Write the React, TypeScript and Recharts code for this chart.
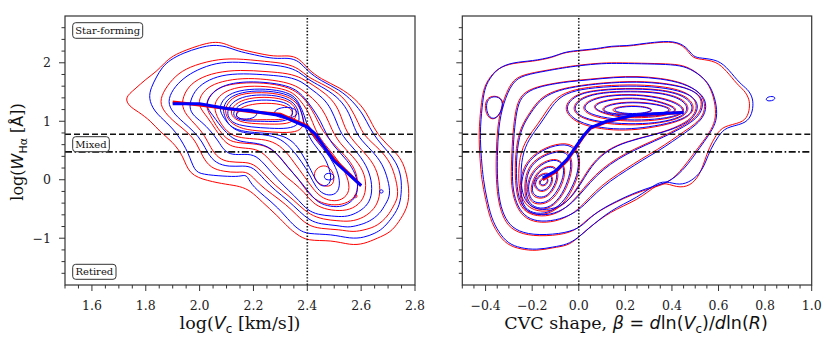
import React from 'react';
import { LineChart, Line, XAxis, YAxis, ReferenceLine } from 'recharts';

type Pt = [number, number];

// ---------- shared ----------
const Y_DOMAIN: [number, number] = [-1.8, 2.8];
const Y_LABELS = [-1, 0, 1, 2];
const LOG_EW_SF = 0.778; // log(6 A)
const LOG_EW_RET = 0.477; // log(3 A)

// ---------- left panel: log(Vc) ----------
const VC_DOMAIN: [number, number] = [1.5, 2.8];
const VC_LABELS = [1.6, 1.8, 2.0, 2.2, 2.4, 2.6, 2.8];
const VC_CUT = 2.4;

const VC_RED: Pt[][] = [
  [[1.72,1.40],[1.76,1.55],[1.80,1.72],[1.84,1.85],[1.87,2.0],[1.90,2.12],[1.95,2.22],[2.0,2.30],[2.05,2.36],[2.09,2.34],[2.13,2.25],[2.2,2.18],[2.28,2.10],[2.33,2.13],[2.37,2.08],[2.40,1.90],[2.45,1.72],[2.52,1.58],[2.58,1.38],[2.62,1.15],[2.64,0.95],[2.67,0.72],[2.72,0.50],[2.75,0.35],[2.77,0.10],[2.78,-0.25],[2.77,-0.50],[2.74,-0.72],[2.71,-0.90],[2.66,-1.0],[2.61,-1.1],[2.56,-1.12],[2.49,-1.03],[2.40,-1.05],[2.36,-0.93],[2.33,-0.82],[2.29,-0.62],[2.23,-0.37],[2.19,-0.19],[2.15,-0.11],[2.10,-0.08],[2.03,-0.02],[1.96,0.09],[1.94,0.40],[1.90,0.65],[1.85,0.83],[1.82,1.0],[1.77,1.17],[1.74,1.25]],
  [[1.85,1.33],[1.87,1.55],[1.91,1.78],[1.96,1.93],[2.05,2.05],[2.13,2.08],[2.25,2.02],[2.32,1.99],[2.37,1.9],[2.40,1.76],[2.45,1.65],[2.52,1.48],[2.56,1.25],[2.59,0.97],[2.61,0.75],[2.67,0.52],[2.71,0.29],[2.73,0.0],[2.74,-0.28],[2.72,-0.45],[2.70,-0.62],[2.66,-0.79],[2.62,-0.85],[2.57,-0.9],[2.52,-0.85],[2.45,-0.84],[2.40,-0.78],[2.36,-0.6],[2.32,-0.42],[2.27,-0.25],[2.22,-0.08],[2.18,0.15],[2.14,0.12],[2.09,0.14],[2.04,0.2],[2.01,0.4],[1.99,0.62],[1.96,0.8],[1.91,0.97],[1.87,1.15]],
  [[1.93,1.3],[1.95,1.55],[1.99,1.72],[2.06,1.84],[2.15,1.88],[2.25,1.85],[2.33,1.82],[2.38,1.74],[2.42,1.62],[2.47,1.47],[2.51,1.27],[2.53,1.02],[2.55,0.77],[2.6,0.52],[2.65,0.27],[2.67,-0.03],[2.67,-0.3],[2.65,-0.5],[2.61,-0.65],[2.56,-0.72],[2.51,-0.7],[2.46,-0.68],[2.41,-0.6],[2.37,-0.44],[2.33,-0.27],[2.28,-0.1],[2.24,0.1],[2.2,0.28],[2.16,0.3],[2.11,0.3],[2.07,0.36],[2.04,0.55],[2.02,0.75],[1.99,0.92],[1.95,1.1]],
  [[1.99,1.28],[2.01,1.5],[2.05,1.64],[2.12,1.72],[2.2,1.74],[2.3,1.69],[2.36,1.61],[2.4,1.47],[2.44,1.31],[2.47,1.1],[2.49,0.86],[2.52,0.62],[2.57,0.4],[2.61,0.15],[2.62,-0.1],[2.61,-0.34],[2.57,-0.5],[2.52,-0.54],[2.46,-0.5],[2.42,-0.4],[2.39,-0.22],[2.35,-0.05],[2.3,0.12],[2.26,0.35],[2.22,0.52],[2.17,0.54],[2.12,0.56],[2.09,0.66],[2.06,0.85],[2.03,1.07]],
  [[2.02,1.27],[2.04,1.47],[2.08,1.6],[2.15,1.66],[2.24,1.66],[2.32,1.6],[2.37,1.48],[2.4,1.32],[2.43,1.1],[2.45,0.88],[2.49,0.64],[2.54,0.42],[2.58,0.18],[2.59,-0.08],[2.58,-0.3],[2.54,-0.42],[2.49,-0.44],[2.44,-0.38],[2.4,-0.22],[2.37,0.0],[2.33,0.2],[2.29,0.45],[2.24,0.6],[2.18,0.62],[2.12,0.64],[2.09,0.74],[2.06,0.93],[2.04,1.1]],
  [[2.05,1.25],[2.07,1.43],[2.11,1.55],[2.18,1.61],[2.27,1.59],[2.34,1.52],[2.37,1.38],[2.4,1.2],[2.42,0.98],[2.44,0.75],[2.48,0.52],[2.52,0.3],[2.55,0.05],[2.56,-0.2],[2.53,-0.35],[2.49,-0.37],[2.45,-0.3],[2.42,-0.15],[2.39,0.05],[2.35,0.3],[2.31,0.55],[2.26,0.68],[2.2,0.7],[2.14,0.72],[2.1,0.82],[2.07,1.02]],
  [[2.09,1.18],[2.11,1.36],[2.15,1.47],[2.23,1.5],[2.31,1.46],[2.36,1.34],[2.38,1.15],[2.39,0.95],[2.37,0.82],[2.31,0.8],[2.23,0.83],[2.16,0.86],[2.11,0.98]],
  [[2.11,1.13],[2.13,1.3],[2.18,1.4],[2.26,1.42],[2.33,1.36],[2.36,1.22],[2.36,1.05],[2.33,0.95],[2.26,0.95],[2.19,0.96],[2.14,1.0]],
  [[2.13,1.1],[2.15,1.24],[2.21,1.31],[2.29,1.31],[2.34,1.23],[2.35,1.1],[2.31,1.02],[2.25,1.03],[2.18,1.02],[2.15,1.04]],
  [[2.42,0.02],[2.43,0.2],[2.47,0.27],[2.5,0.12],[2.5,-0.1],[2.46,-0.13]],
  [[2.575,-0.25],[2.585,-0.25],[2.585,-0.31],[2.575,-0.31]],
];

const VC_BLUE: Pt[][] = [
  [[1.81,1.40],[1.82,1.58],[1.84,1.76],[1.86,1.92],[1.89,2.05],[1.94,2.17],[2.0,2.26],[2.05,2.31],[2.1,2.28],[2.14,2.2],[2.2,2.14],[2.28,2.06],[2.33,2.09],[2.37,2.03],[2.40,1.86],[2.45,1.69],[2.52,1.54],[2.57,1.34],[2.61,1.1],[2.63,0.9],[2.66,0.68],[2.70,0.48],[2.73,0.30],[2.75,0.06],[2.75,-0.25],[2.74,-0.48],[2.71,-0.68],[2.68,-0.84],[2.65,-0.92],[2.61,-0.99],[2.56,-1.01],[2.49,-0.93],[2.40,-0.93],[2.37,-0.86],[2.34,-0.74],[2.29,-0.47],[2.24,-0.28],[2.19,-0.08],[2.175,0.1],[2.15,0.05],[2.09,0.06],[2.01,0.09],[1.98,0.15],[1.96,0.45],[1.92,0.77],[1.88,0.97],[1.83,1.17]],
  [[1.88,1.33],[1.9,1.55],[1.94,1.74],[1.99,1.88],[2.06,2.0],[2.14,2.02],[2.25,1.97],[2.32,1.94],[2.37,1.85],[2.40,1.72],[2.45,1.6],[2.51,1.43],[2.55,1.2],[2.57,0.95],[2.59,0.72],[2.64,0.5],[2.68,0.27],[2.70,0.0],[2.71,-0.26],[2.69,-0.42],[2.67,-0.58],[2.63,-0.72],[2.59,-0.78],[2.55,-0.82],[2.51,-0.78],[2.45,-0.76],[2.41,-0.7],[2.37,-0.54],[2.33,-0.36],[2.28,-0.18],[2.24,0.0],[2.20,0.22],[2.16,0.24],[2.11,0.22],[2.06,0.28],[2.03,0.45],[2.01,0.65],[1.98,0.82],[1.94,0.98],[1.90,1.15]],
  [[1.96,1.28],[1.98,1.52],[2.02,1.68],[2.08,1.79],[2.16,1.82],[2.26,1.79],[2.33,1.76],[2.38,1.68],[2.41,1.56],[2.46,1.4],[2.49,1.2],[2.51,0.97],[2.53,0.74],[2.58,0.5],[2.62,0.25],[2.64,-0.02],[2.64,-0.28],[2.62,-0.46],[2.58,-0.58],[2.54,-0.64],[2.49,-0.62],[2.44,-0.6],[2.4,-0.52],[2.37,-0.36],[2.33,-0.18],[2.29,0.0],[2.25,0.22],[2.21,0.42],[2.17,0.44],[2.12,0.42],[2.09,0.5],[2.07,0.66],[2.04,0.84],[2.01,0.98],[1.97,1.12]],
  [[2.02,1.26],[2.04,1.46],[2.08,1.6],[2.14,1.67],[2.22,1.68],[2.31,1.63],[2.36,1.54],[2.39,1.4],[2.42,1.22],[2.45,1.0],[2.47,0.78],[2.5,0.56],[2.55,0.33],[2.58,0.1],[2.59,-0.12],[2.58,-0.32],[2.54,-0.45],[2.5,-0.47],[2.45,-0.42],[2.42,-0.3],[2.39,-0.12],[2.36,0.05],[2.32,0.25],[2.28,0.5],[2.23,0.62],[2.17,0.64],[2.13,0.68],[2.1,0.8],[2.07,0.96],[2.05,1.1]],
  [[2.07,1.22],[2.09,1.4],[2.13,1.51],[2.2,1.56],[2.29,1.54],[2.35,1.45],[2.37,1.3],[2.39,1.1],[2.4,0.9],[2.43,0.68],[2.47,0.48],[2.5,0.27],[2.52,0.04],[2.52,-0.16],[2.5,-0.27],[2.46,-0.26],[2.43,-0.12],[2.41,0.08],[2.38,0.3],[2.34,0.55],[2.29,0.74],[2.22,0.78],[2.16,0.8],[2.12,0.88],[2.09,1.05]],
  [[2.085,1.2],[2.1,1.37],[2.14,1.48],[2.21,1.53],[2.3,1.5],[2.355,1.4],[2.375,1.22],[2.385,1.02],[2.395,0.85],[2.42,0.62],[2.46,0.42],[2.48,0.22],[2.49,0.03],[2.48,-0.1],[2.45,-0.12],[2.43,0.0],[2.41,0.2],[2.38,0.45],[2.35,0.65],[2.3,0.78],[2.22,0.8],[2.15,0.83],[2.11,0.92],[2.095,1.06]],
  [[2.1,1.16],[2.12,1.33],[2.17,1.44],[2.25,1.46],[2.32,1.41],[2.36,1.28],[2.37,1.1],[2.37,0.94],[2.33,0.87],[2.26,0.88],[2.19,0.9],[2.13,0.95],[2.11,1.04]],
  [[2.12,1.12],[2.14,1.27],[2.19,1.36],[2.27,1.37],[2.33,1.31],[2.35,1.18],[2.34,1.04],[2.3,0.99],[2.24,1.0],[2.18,1.0],[2.14,1.03]],
  [[2.13,1.1],[2.15,1.2],[2.19,1.22],[2.22,1.14],[2.2,1.04],[2.15,1.03]],
  [[2.27,1.13],[2.29,1.23],[2.34,1.25],[2.37,1.16],[2.35,1.05],[2.3,1.05]],
  [[2.46,0.05],[2.47,0.12],[2.5,0.1],[2.5,0.0],[2.47,-0.01]],
  [[2.668,-0.17],[2.682,-0.17],[2.682,-0.23],[2.668,-0.23]],
];

const VC_RED_MEDIAN: Pt[] = [[1.9,1.33],[2.0,1.28],[2.1,1.22],[2.2,1.16],[2.3,1.12],[2.4,0.92],[2.42,0.8],[2.5,0.35],[2.6,-0.1]];
const VC_BLUE_MEDIAN: Pt[] = [[1.9,1.3],[2.0,1.3],[2.1,1.22],[2.2,1.17],[2.3,1.1],[2.4,0.9],[2.43,0.78],[2.5,0.32],[2.6,-0.1]];

// ---------- right panel: CVC shape beta ----------
const BETA_DOMAIN: [number, number] = [-0.5, 1.0];
const BETA_LABELS = [-0.4, -0.2, 0.0, 0.2, 0.4, 0.6, 0.8, 1.0];
const BETA_CUT = 0;

const BETA_RED: Pt[][] = [
  [[-0.43,0.8],[-0.42,1.26],[-0.41,1.54],[-0.39,1.71],[-0.35,1.91],[-0.28,2.0],[-0.2,2.02],[-0.11,2.09],[-0.07,2.17],[-0.01,2.2],[0.08,2.23],[0.14,2.28],[0.21,2.28],[0.26,2.31],[0.32,2.34],[0.41,2.37],[0.46,2.26],[0.485,2.09],[0.52,2.06],[0.59,2.03],[0.635,1.86],[0.68,1.63],[0.71,1.53],[0.73,1.40],[0.735,1.27],[0.727,1.09],[0.70,0.97],[0.62,0.92],[0.59,0.77],[0.56,0.55],[0.54,0.32],[0.52,0.09],[0.48,-0.11],[0.42,-0.14],[0.36,-0.02],[0.30,-0.2],[0.25,-0.34],[0.19,-0.45],[0.135,-0.56],[0.09,-0.68],[0.035,-0.85],[-0.01,-1.02],[-0.05,-1.13],[-0.11,-1.16],[-0.18,-1.22],[-0.25,-1.19],[-0.31,-1.11],[-0.35,-0.91],[-0.38,-0.68],[-0.40,-0.34],[-0.417,0.0],[-0.424,0.35]],
  [[-0.355,0.4],[-0.35,0.9],[-0.33,1.3],[-0.29,1.69],[-0.24,1.8],[-0.14,1.87],[-0.07,1.92],[0.0,1.96],[0.1,2.0],[0.18,2.0],[0.3,1.99],[0.4,1.98],[0.46,1.95],[0.52,1.8],[0.56,1.63],[0.585,1.34],[0.59,1.06],[0.57,0.86],[0.535,0.66],[0.49,0.43],[0.45,0.21],[0.39,-0.05],[0.32,-0.13],[0.23,-0.25],[0.15,-0.4],[0.08,-0.55],[0.03,-0.7],[-0.01,-0.86],[-0.08,-0.95],[-0.2,-0.97],[-0.28,-0.88],[-0.32,-0.7],[-0.345,-0.4],[-0.355,0.0]],
  [[-0.29,0.2],[-0.285,0.7],[-0.275,1.1],[-0.26,1.38],[-0.22,1.54],[-0.14,1.63],[-0.04,1.69],[0.05,1.72],[0.15,1.76],[0.25,1.77],[0.35,1.74],[0.45,1.66],[0.52,1.5],[0.545,1.3],[0.535,1.1],[0.5,0.95],[0.45,0.82],[0.4,0.68],[0.34,0.52],[0.27,0.36],[0.2,0.18],[0.13,0.0],[0.07,-0.2],[0.02,-0.42],[-0.03,-0.6],[-0.1,-0.72],[-0.18,-0.74],[-0.24,-0.64],[-0.275,-0.4],[-0.29,-0.1]],
  [[-0.275,0.1],[-0.27,0.55],[-0.25,0.9],[-0.21,1.15],[-0.17,1.38],[-0.11,1.52],[-0.02,1.6],[0.1,1.66],[0.25,1.69],[0.38,1.65],[0.48,1.56],[0.53,1.4],[0.525,1.18],[0.49,1.02],[0.43,0.88],[0.36,0.74],[0.28,0.6],[0.2,0.45],[0.13,0.28],[0.07,0.08],[0.02,-0.15],[-0.03,-0.4],[-0.09,-0.58],[-0.16,-0.64],[-0.23,-0.57],[-0.265,-0.35]],
  [[-0.26,0.0],[-0.255,0.4],[-0.225,0.7],[-0.175,0.95],[-0.135,1.2],[-0.095,1.42],[-0.02,1.55],[0.1,1.61],[0.25,1.63],[0.38,1.59],[0.47,1.49],[0.51,1.32],[0.5,1.12],[0.46,0.98],[0.39,0.85],[0.3,0.75],[0.2,0.65],[0.12,0.51],[0.06,0.29],[0.02,0.04],[-0.02,-0.23],[-0.07,-0.46],[-0.14,-0.56],[-0.21,-0.51],[-0.25,-0.3]],
  [[-0.07,1.2],[-0.03,1.43],[0.05,1.53],[0.2,1.57],[0.35,1.55],[0.46,1.45],[0.5,1.26],[0.48,1.09],[0.41,0.97],[0.3,0.88],[0.2,0.84],[0.1,0.86],[-0.01,0.96]],
  [[-0.035,1.22],[0.01,1.42],[0.1,1.5],[0.22,1.52],[0.35,1.5],[0.45,1.39],[0.48,1.2],[0.44,1.05],[0.35,0.97],[0.25,0.93],[0.12,0.95],[0.01,1.04]],
  [[0.005,1.22],[0.05,1.39],[0.15,1.46],[0.28,1.46],[0.41,1.36],[0.47,1.18],[0.41,1.06],[0.3,1.0],[0.18,1.0],[0.06,1.07]],
  [[0.045,1.22],[0.09,1.35],[0.2,1.41],[0.32,1.38],[0.44,1.22],[0.39,1.1],[0.27,1.05],[0.15,1.07]],
  [[0.09,1.2],[0.13,1.3],[0.23,1.34],[0.34,1.3],[0.42,1.19],[0.34,1.11],[0.23,1.1],[0.13,1.12]],
  [[0.13,1.19],[0.175,1.26],[0.27,1.27],[0.335,1.19],[0.27,1.12],[0.185,1.12]],
  [[-0.255,-0.2],[-0.245,0.16],[-0.205,0.41],[-0.12,0.6],[-0.035,0.64],[0.005,0.46],[0.005,0.15],[-0.025,-0.16],[-0.065,-0.42],[-0.13,-0.6],[-0.205,-0.6],[-0.245,-0.46]],
  [[-0.235,-0.15],[-0.225,0.16],[-0.185,0.36],[-0.11,0.5],[-0.045,0.5],[-0.025,0.3],[-0.035,0.04],[-0.065,-0.26],[-0.12,-0.5],[-0.185,-0.52],[-0.225,-0.39]],
  [[-0.225,-0.12],[-0.205,0.13],[-0.155,0.31],[-0.09,0.38],[-0.055,0.22],[-0.065,-0.03],[-0.095,-0.27],[-0.14,-0.42],[-0.195,-0.42],[-0.215,-0.31]],
  [[-0.205,-0.1],[-0.185,0.11],[-0.14,0.24],[-0.095,0.23],[-0.085,0.05],[-0.105,-0.16],[-0.14,-0.32],[-0.185,-0.32],[-0.205,-0.23]],
  [[-0.195,-0.06],[-0.175,0.08],[-0.13,0.14],[-0.105,0.02],[-0.125,-0.16],[-0.16,-0.22],[-0.185,-0.16]],
  [[-0.175,-0.04],[-0.155,0.04],[-0.128,0.03],[-0.135,-0.09],[-0.162,-0.12]],
  [[-0.405,1.28],[-0.39,1.42],[-0.35,1.44],[-0.322,1.35],[-0.328,1.18],[-0.36,1.01],[-0.395,1.07]],
];

const BETA_BLUE: Pt[][] = [
  [[-0.425,0.8],[-0.415,1.26],[-0.405,1.55],[-0.385,1.72],[-0.345,1.92],[-0.28,2.01],[-0.2,2.03],[-0.11,2.1],[-0.065,2.18],[-0.01,2.21],[0.08,2.24],[0.14,2.29],[0.21,2.29],[0.26,2.32],[0.32,2.35],[0.41,2.38],[0.465,2.27],[0.49,2.1],[0.525,2.08],[0.6,2.05],[0.645,1.88],[0.69,1.65],[0.725,1.55],[0.745,1.42],[0.75,1.27],[0.74,1.08],[0.71,0.95],[0.63,0.9],[0.6,0.75],[0.565,0.52],[0.545,0.3],[0.52,0.1],[0.47,-0.06],[0.42,-0.09],[0.36,0.0],[0.3,-0.16],[0.25,-0.3],[0.19,-0.42],[0.14,-0.53],[0.095,-0.66],[0.04,-0.84],[-0.005,-1.0],[-0.05,-1.11],[-0.11,-1.15],[-0.18,-1.2],[-0.25,-1.17],[-0.305,-1.09],[-0.345,-0.89],[-0.375,-0.66],[-0.395,-0.32],[-0.41,0.0],[-0.418,0.35]],
  [[-0.35,0.4],[-0.345,0.9],[-0.325,1.3],[-0.285,1.68],[-0.235,1.79],[-0.14,1.86],[-0.07,1.91],[0.0,1.95],[0.1,1.99],[0.18,1.99],[0.3,1.98],[0.4,1.97],[0.465,1.93],[0.525,1.78],[0.565,1.61],[0.59,1.33],[0.595,1.06],[0.575,0.86],[0.54,0.66],[0.5,0.44],[0.46,0.22],[0.4,-0.02],[0.33,-0.1],[0.24,-0.22],[0.16,-0.37],[0.09,-0.52],[0.04,-0.68],[0.0,-0.84],[-0.08,-0.93],[-0.2,-0.95],[-0.275,-0.86],[-0.315,-0.68],[-0.34,-0.4],[-0.35,0.0]],
  [[-0.285,0.2],[-0.28,0.7],[-0.27,1.1],[-0.255,1.37],[-0.215,1.53],[-0.14,1.62],[-0.04,1.68],[0.05,1.71],[0.15,1.75],[0.25,1.76],[0.35,1.73],[0.45,1.65],[0.525,1.49],[0.55,1.3],[0.54,1.1],[0.505,0.94],[0.455,0.8],[0.405,0.66],[0.345,0.5],[0.275,0.34],[0.205,0.16],[0.135,-0.02],[0.075,-0.22],[0.025,-0.43],[-0.025,-0.59],[-0.1,-0.7],[-0.18,-0.72],[-0.235,-0.62],[-0.27,-0.4],[-0.285,-0.1]],
  [[-0.27,0.1],[-0.265,0.55],[-0.245,0.9],[-0.205,1.15],[-0.165,1.37],[-0.105,1.51],[-0.02,1.59],[0.1,1.65],[0.25,1.68],[0.38,1.64],[0.485,1.55],[0.535,1.39],[0.53,1.17],[0.495,1.01],[0.435,0.87],[0.365,0.73],[0.285,0.59],[0.205,0.44],[0.135,0.27],[0.075,0.07],[0.025,-0.16],[-0.025,-0.39],[-0.085,-0.56],[-0.16,-0.62],[-0.225,-0.55],[-0.26,-0.34]],
  [[-0.25,0.0],[-0.245,0.4],[-0.215,0.7],[-0.165,0.95],[-0.125,1.2],[-0.085,1.41],[-0.02,1.53],[0.1,1.59],[0.25,1.61],[0.38,1.57],[0.475,1.47],[0.515,1.31],[0.505,1.12],[0.465,0.97],[0.395,0.85],[0.305,0.75],[0.205,0.65],[0.125,0.51],[0.065,0.29],[0.025,0.04],[-0.015,-0.22],[-0.065,-0.44],[-0.14,-0.53],[-0.205,-0.48],[-0.24,-0.3]],
  [[-0.065,1.2],[-0.025,1.42],[0.05,1.52],[0.2,1.56],[0.35,1.54],[0.455,1.44],[0.495,1.25],[0.475,1.09],[0.405,0.98],[0.3,0.9],[0.2,0.86],[0.1,0.88],[-0.005,0.98]],
  [[-0.03,1.22],[0.015,1.41],[0.1,1.49],[0.22,1.51],[0.35,1.49],[0.445,1.38],[0.475,1.2],[0.435,1.06],[0.35,0.98],[0.25,0.95],[0.12,0.97],[0.015,1.05]],
  [[0.01,1.22],[0.055,1.38],[0.15,1.45],[0.28,1.45],[0.405,1.35],[0.465,1.18],[0.405,1.07],[0.3,1.02],[0.18,1.02],[0.065,1.09]],
  [[0.05,1.22],[0.095,1.34],[0.2,1.4],[0.32,1.37],[0.435,1.21],[0.385,1.11],[0.27,1.07],[0.15,1.09]],
  [[0.095,1.2],[0.135,1.29],[0.23,1.33],[0.34,1.29],[0.41,1.19],[0.34,1.12],[0.23,1.11],[0.135,1.13]],
  [[0.14,1.19],[0.18,1.25],[0.27,1.26],[0.33,1.19],[0.27,1.13],[0.19,1.13]],
  [[-0.25,-0.2],[-0.24,0.15],[-0.2,0.4],[-0.12,0.58],[-0.04,0.62],[0.0,0.45],[0.0,0.15],[-0.03,-0.15],[-0.07,-0.4],[-0.13,-0.58],[-0.2,-0.58],[-0.24,-0.45]],
  [[-0.23,-0.15],[-0.22,0.15],[-0.18,0.35],[-0.11,0.48],[-0.05,0.48],[-0.03,0.3],[-0.04,0.05],[-0.07,-0.25],[-0.12,-0.48],[-0.18,-0.5],[-0.22,-0.38]],
  [[-0.22,-0.12],[-0.2,0.12],[-0.15,0.3],[-0.09,0.36],[-0.06,0.22],[-0.07,-0.02],[-0.1,-0.25],[-0.14,-0.4],[-0.19,-0.4],[-0.21,-0.3]],
  [[-0.2,-0.1],[-0.18,0.1],[-0.14,0.22],[-0.1,0.22],[-0.09,0.05],[-0.11,-0.15],[-0.14,-0.3],[-0.18,-0.3],[-0.2,-0.22]],
  [[-0.19,-0.06],[-0.17,0.07],[-0.13,0.12],[-0.11,0.02],[-0.13,-0.15],[-0.16,-0.2],[-0.18,-0.15]],
  [[-0.17,-0.04],[-0.15,0.03],[-0.13,0.02],[-0.14,-0.08],[-0.16,-0.1]],
  [[-0.4,1.28],[-0.385,1.41],[-0.35,1.43],[-0.325,1.35],[-0.33,1.18],[-0.36,1.02],[-0.39,1.08]],
  [[0.80,1.37],[0.815,1.43],[0.845,1.42],[0.84,1.36],[0.815,1.34]],
];

const BETA_RED_MEDIAN: Pt[] = [[-0.155,0.0],[-0.1,0.13],[-0.05,0.33],[-0.01,0.56],[0.02,0.74],[0.05,0.88],[0.12,0.99],[0.23,1.09],[0.32,1.12],[0.45,1.15]];
const BETA_BLUE_MEDIAN: Pt[] = [[-0.155,0.03],[-0.1,0.15],[-0.05,0.35],[-0.01,0.58],[0.02,0.75],[0.05,0.89],[0.12,1.0],[0.23,1.1],[0.32,1.13],[0.45,1.15]];

// ---------- helpers ----------
const toRows = (pts: Pt[]) => pts.map(([x, y]) => ({ x, y }));

const steps = (from: number, to: number, step: number) => {
  const out: number[] = [];
  for (let v = from; v <= to + 1e-9; v += step) out.push(Math.round(v * 1000) / 1000);
  return out;
};

const fmt = (v: number, digits: number) => {
  const s = (Math.abs(v) < 1e-9 ? 0 : v).toFixed(digits);
  return s.replace('-', '\u2212');
};

const isOn = (v: number, unit: number) => Math.abs(v / unit - Math.round(v / unit)) < 1e-6;

const AXIS = '#333';
const SERIF = 'DejaVu Serif';
const MATH = 'DejaVu Sans';

const XTick = (props: any) => {
  const { x, y, payload, labels } = props;
  const v = payload.value as number;
  const major = labels.some((l: number) => Math.abs(l - v) < 1e-6);
  return (
    <g>
      <line x1={x} x2={x} y1={y} y2={y + (major ? 6 : 3.5)} stroke={AXIS} strokeWidth={1} />
      {major && (
        <text x={x} y={y + 25} textAnchor="middle" fontSize={12.5} fontFamily={SERIF} fill="#222">
          {fmt(v, 1)}
        </text>
      )}
    </g>
  );
};

const YTick = (props: any) => {
  const { x, y, payload, showLabels } = props;
  const v = payload.value as number;
  const major = isOn(v, 1);
  return (
    <g>
      <line x1={x} x2={x - (major ? 6 : 3.5)} y1={y} y2={y} stroke={AXIS} strokeWidth={1} />
      {major && showLabels && Y_LABELS.includes(Math.round(v)) && (
        <text x={x - 14} y={y + 4.5} textAnchor="end" fontSize={12.5} fontFamily={SERIF} fill="#222">
          {fmt(v, 0)}
        </text>
      )}
    </g>
  );
};

interface PanelProps {
  width: number;
  margin: { top: number; right: number; bottom: number; left: number };
  xDomain: [number, number];
  xLabels: number[];
  red: Pt[][];
  blue: Pt[][];
  redMedian: Pt[];
  blueMedian: Pt[];
  xCut: number;
  showYLabels: boolean;
}

function Panel({ width, margin, xDomain, xLabels, red, blue, redMedian, blueMedian, xCut, showYLabels }: PanelProps) {
  const xTicks = steps(xDomain[0], xDomain[1], 0.05);
  const yTicks = steps(-1.6, 2.6, 0.2);
  return (
    <LineChart width={width} height={341} margin={margin}>
      <XAxis
        type="number"
        dataKey="x"
        domain={xDomain}
        allowDataOverflow
        ticks={xTicks}
        interval={0}
        tick={(p: any) => <XTick {...p} labels={xLabels} />}
        tickLine={false}
        axisLine={false}
        tickSize={0}
        tickMargin={0}
        height={1}
      />
      <YAxis
        type="number"
        domain={Y_DOMAIN}
        allowDataOverflow
        ticks={yTicks}
        interval={0}
        tick={(p: any) => <YTick {...p} showLabels={showYLabels} />}
        tickLine={false}
        axisLine={false}
        tickSize={0}
        tickMargin={0}
        width={1}
      />
      {red.map((c, i) => (
        <Line key={`r${i}`} data={toRows(c)} dataKey="y" type="basisClosed" stroke="#ff0000" strokeWidth={1}
          dot={false} activeDot={false} isAnimationActive={false} legendType="none" />
      ))}
      {blue.map((c, i) => (
        <Line key={`b${i}`} data={toRows(c)} dataKey="y" type="basisClosed" stroke="#0000ff" strokeWidth={1}
          dot={false} activeDot={false} isAnimationActive={false} legendType="none" />
      ))}
      <ReferenceLine y={LOG_EW_SF} stroke="#111" strokeWidth={1.6} strokeDasharray="6 3" />
      <ReferenceLine y={LOG_EW_RET} stroke="#111" strokeWidth={1.6} strokeDasharray="7 2.5 1.6 2.5" />
      <ReferenceLine x={xCut} stroke="#111" strokeWidth={1.6} strokeDasharray="1.4 1.8" />
      <Line data={toRows(redMedian)} dataKey="y" type="linear" stroke="#ff0000" strokeWidth={3}
        dot={false} activeDot={false} isAnimationActive={false} legendType="none" />
      <Line data={toRows(blueMedian)} dataKey="y" type="linear" stroke="#0000ff" strokeWidth={3}
        dot={false} activeDot={false} isAnimationActive={false} legendType="none" />
    </LineChart>
  );
}

const Box = ({ x, y, w, h, label }: { x: number; y: number; w: number; h: number; label: string }) => (
  <g>
    <rect x={x} y={y} width={w} height={h} rx={3} ry={3} fill="#fff" stroke="#333" strokeWidth={1} />
    <text x={x + w / 2} y={y + h / 2 + 3.5} textAnchor="middle" fontSize={10} fontFamily={SERIF} fill="#111">
      {label}
    </text>
  </g>
);

export default function App() {
  return (
    <div style={{ position: 'absolute', left: 0, top: 0, width: 830, height: 341, background: '#fff', overflow: 'hidden' }}>
      <div style={{ position: 'absolute', left: 0, top: 0 }}>
        <Panel
          width={430}
          margin={{ top: 16, right: 15, bottom: 55, left: 64 }}
          xDomain={VC_DOMAIN}
          xLabels={VC_LABELS}
          red={VC_RED}
          blue={VC_BLUE}
          redMedian={VC_RED_MEDIAN}
          blueMedian={VC_BLUE_MEDIAN}
          xCut={VC_CUT}
          showYLabels
        />
      </div>
      <div style={{ position: 'absolute', left: 420, top: 0 }}>
        <Panel
          width={410}
          margin={{ top: 16, right: 18.3, bottom: 55, left: 41.3 }}
          xDomain={BETA_DOMAIN}
          xLabels={BETA_LABELS}
          red={BETA_RED}
          blue={BETA_BLUE}
          redMedian={BETA_RED_MEDIAN}
          blueMedian={BETA_BLUE_MEDIAN}
          xCut={BETA_CUT}
          showYLabels={false}
        />
      </div>
      <svg width={830} height={341} style={{ position: 'absolute', left: 0, top: 0, pointerEvents: 'none' }}>
        <rect x={65} y={16} width={350} height={269} fill="none" stroke={AXIS} strokeWidth={1.2} />
        <rect x={462.3} y={16} width={349.4} height={269} fill="none" stroke={AXIS} strokeWidth={1.2} />
        <Box x={72.7} y={22.7} w={70} h={15.6} label="Star-forming" />
        <Box x={72.7} y={136.7} w={36.6} h={15} label="Mixed" />
        <Box x={72.7} y={264.3} w={43.3} h={15} label="Retired" />
        <text transform="translate(23,152) rotate(-90)" textAnchor="middle" fontSize={16} fontFamily={SERIF} fill="#111">
          log(<tspan fontFamily={MATH} fontStyle="italic">W</tspan>
          <tspan fontFamily={MATH} fontSize={11} dy={4}>Hα</tspan>
          <tspan dy={-4}> [</tspan>
          <tspan fontFamily={MATH}>Å</tspan>])
        </text>
        <text x={240} y={329} textAnchor="middle" fontSize={17.5} fontFamily={SERIF} fill="#111">
          log(<tspan fontFamily={MATH} fontStyle="italic">V</tspan>
          <tspan fontFamily={MATH} fontSize={12} dy={4}>c</tspan>
          <tspan dy={-4}> [km/s])</tspan>
        </text>
        <text x={636} y={329} textAnchor="middle" fontSize={17.5} fontFamily={SERIF} fill="#111">
          CVC shape, <tspan fontFamily={MATH} fontStyle="italic">β</tspan>
          <tspan fontFamily={MATH}> = </tspan>
          <tspan fontFamily={MATH} fontStyle="italic">d</tspan>
          <tspan fontFamily={MATH}>ln(</tspan>
          <tspan fontFamily={MATH} fontStyle="italic">V</tspan>
          <tspan fontFamily={MATH} fontSize={12} dy={4}>c</tspan>
          <tspan fontFamily={MATH} dy={-4}>)/</tspan>
          <tspan fontFamily={MATH} fontStyle="italic">d</tspan>
          <tspan fontFamily={MATH}>ln(</tspan>
          <tspan fontFamily={MATH} fontStyle="italic">R</tspan>
          <tspan fontFamily={MATH}>)</tspan>
        </text>
      </svg>
    </div>
  );
}
